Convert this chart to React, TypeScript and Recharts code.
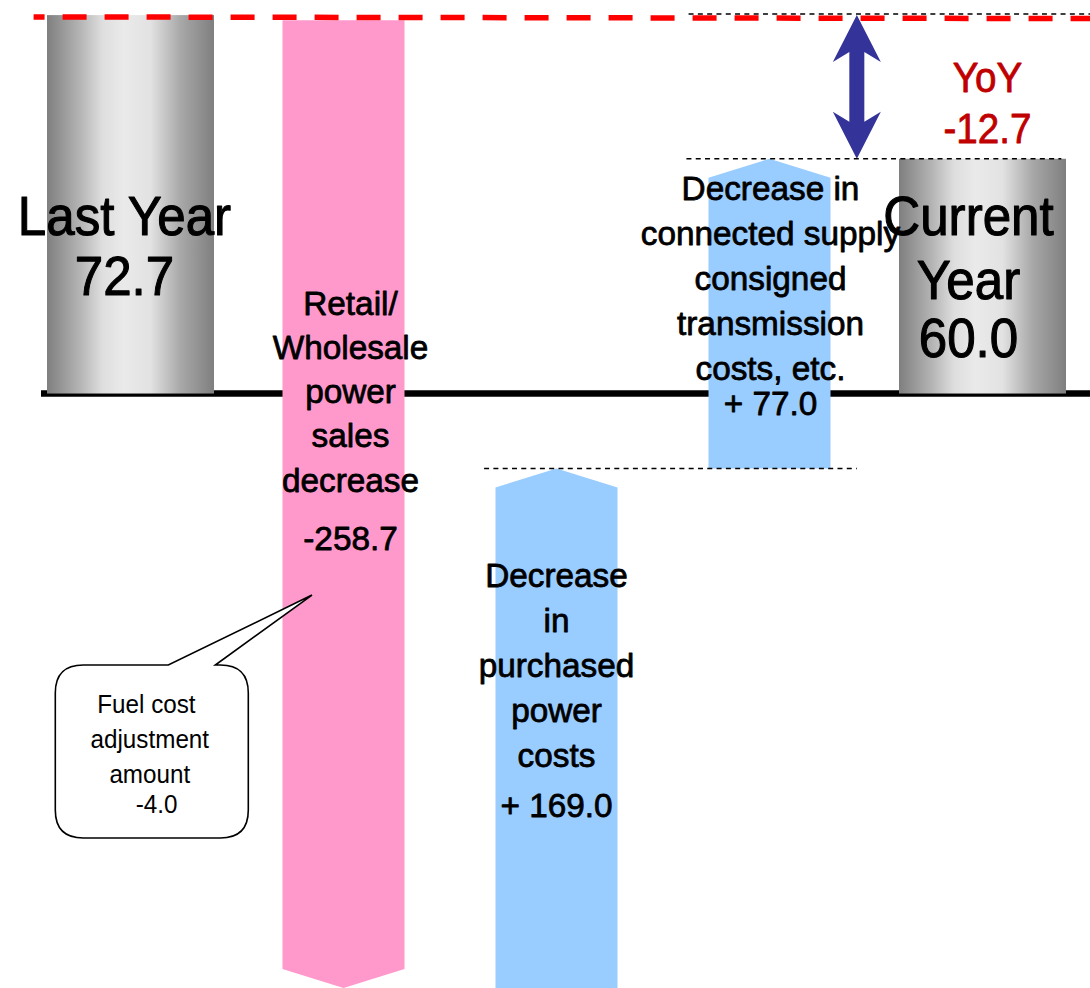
import React from 'react';
import { BarChart, Bar, XAxis, YAxis, ReferenceLine, ReferenceArea, LabelList } from 'recharts';

// ---- data (bar extents are in the chart's schematic units, as drawn) ----
const categories = [
  'Last Year',
  'Retail/Wholesale power sales decrease',
  'Decrease in purchased power costs',
  'Decrease in connected supply consigned transmission costs',
  'Current Year',
];
const barLow = [0, -114.2, -114.2, -14.4, 0];
const barHigh = [72.7, 71.7, -14.4, 45.1, 45.1];
const deltas: (number | null)[] = [null, -258.7, 169.0, 77.0, null];
const yDomain: [number, number] = [-114.2, 75.6];
const labelLines = [
  ['Last Year', '72.7'],
  ['Retail/', 'Wholesale', 'power', 'sales', 'decrease', '-258.7'],
  ['Decrease', 'in', 'purchased', 'power', 'costs', '+ 169.0'],
  ['Decrease in', 'connected supply', 'consigned', 'transmission', 'costs, etc.', '+ 77.0'],
  ['Current', 'Year', '60.0'],
];
const yoyLines = ['YoY', '-12.7'];
const calloutLines = ['Fuel cost\u00A0', 'adjustment', 'amount', '\u00A0\u00A0-4.0'];

const data = categories.map((name, i) => ({ name, range: [barLow[i], barHigh[i]], delta: deltas[i] }));

// ---- styles / layout ----
const FONT = '"Liberation Sans", Arial, Helvetica, sans-serif';
const CYL_W = 167;
const ARROW_W = 122;
const HEAD = 19;
const PINK = '#FF99CC';
const BLUE = '#99CCFF';

const labelLayout = [
  { dx: -6, first: -158.5, offs: [0, 60], size: 55, sx: 0.93, sw: 1.1 },
  { dx: 7, first: -78.5, offs: [0, 44, 88, 132, 177, 235], size: 34, sx: 0.98, sw: 0.8 },
  { dx: 0, first: 193.5, offs: [0, 45, 90, 135, 180, 230], size: 34, sx: 0.98, sw: 0.8 },
  { dx: 1, first: -193.5, offs: [0, 45, 90, 135, 180, 215], size: 34, sx: 0.98, sw: 0.8 },
  { dx: -14, first: -158.5, offs: [0, 64, 122], size: 55, sx: 0.93, sw: 1.1 },
];

function Txt({ x, y, size, sx = 1, fill = '#000', sw = 0, children }: any) {
  return (
    <text
      transform={`translate(${x},${y}) scale(${sx},1)`}
      textAnchor="middle"
      fontSize={size}
      fontFamily={FONT}
      fill={fill}
      stroke={sw ? fill : 'none'}
      strokeWidth={sw}
      strokeLinejoin="round"
    >
      {children}
    </text>
  );
}

function idxOf(props: any): number {
  if (typeof props.index === 'number') return props.index;
  const n = props.payload?.name ?? props.name ?? props.value;
  return categories.indexOf(n);
}

const BarShape = (props: any) => {
  const { x, y, width, height } = props;
  const i = idxOf(props);
  if (i < 0) return <g />;
  const top = Math.min(y, y + height);
  const h = Math.abs(height);
  const bottom = top + h;
  const cx = x + width / 2;
  const band = width;
  const ppu = h / (barHigh[i] - barLow[i]);
  const y0 = top + barHigh[i] * ppu;
  const d = deltas[i];
  if (d == null) {
    const gid = `cyl${i}`;
    return (
      <g>
        <defs>
          <linearGradient id={gid} x1="0" y1="0" x2="1" y2="0">
            <stop offset="0" stopColor="#7f7f7f" />
            <stop offset="0.2" stopColor="#b5b5b5" />
            <stop offset="0.33" stopColor="#dedede" />
            <stop offset="0.46" stopColor="#eaeaea" />
            <stop offset="0.62" stopColor="#e2e2e2" />
            <stop offset="0.8" stopColor="#a8a8a8" />
            <stop offset="1" stopColor="#7f7f7f" />
          </linearGradient>
        </defs>
        <rect x={cx - CYL_W / 2} y={top} width={CYL_W} height={h} fill={`url(#${gid})`} />
      </g>
    );
  }
  const L = cx - ARROW_W / 2;
  const R = cx + ARROW_W / 2;
  const pts =
    d < 0
      ? `${L},${top} ${R},${top} ${R},${bottom - HEAD} ${cx},${bottom} ${L},${bottom - HEAD}`
      : `${L},${bottom} ${L},${top + HEAD} ${cx},${top} ${R},${top + HEAD} ${R},${bottom}`;
  let callout = null;
  if (i === 1) {
    const mid = cx - band / 2;
    const bcx = mid - 0.4 * band;
    const bl = bcx - 96.5;
    const br = bcx + 96.5;
    const bt = y0 + 271.5;
    const bb = y0 + 444.5;
    const r = 28;
    const tipX = mid + 0.352 * band;
    const tipY = y0 + 201.5;
    const p1 = bcx + 16.5;
    const p2 = bcx + 63.5;
    const path = `M ${bl + r} ${bt} L ${p1} ${bt} L ${tipX} ${tipY} L ${p2} ${bt} L ${br - r} ${bt} Q ${br} ${bt} ${br} ${bt + r} L ${br} ${bb - r} Q ${br} ${bb} ${br - r} ${bb} L ${bl + r} ${bb} Q ${bl} ${bb} ${bl} ${bb - r} L ${bl} ${bt + r} Q ${bl} ${bt} ${bl + r} ${bt} Z`;
    const base = [319.5, 354.5, 389.5, 419.5];
    callout = (
      <g>
        <path d={path} fill="#fff" stroke="#000" strokeWidth={1.6} strokeLinejoin="miter" />
        {calloutLines.map((t, k) => (
          <Txt key={k} x={bcx - 2} y={y0 + base[k]} size={25} sx={0.97}>
            {t}
          </Txt>
        ))}
      </g>
    );
  }
  return (
    <g>
      <polygon points={pts} fill={d < 0 ? PINK : BLUE} />
      {callout}
    </g>
  );
};

const renderLabel = (props: any) => {
  const i = idxOf(props);
  if (i < 0) return null;
  const vb = props.viewBox && typeof props.viewBox.x === 'number' ? props.viewBox : props;
  const top = Math.min(vb.y, vb.y + vb.height);
  const h = Math.abs(vb.height);
  const cx = vb.x + vb.width / 2;
  const ppu = h / (barHigh[i] - barLow[i]);
  const y0 = top + barHigh[i] * ppu;
  const lay = labelLayout[i];
  return (
    <g>
      {labelLines[i].map((t, k) => (
        <Txt key={k} x={cx + lay.dx} y={y0 + lay.first + lay.offs[k]} size={lay.size} sx={lay.sx} sw={lay.sw}>
          {t}
        </Txt>
      ))}
    </g>
  );
};

const bandOf = (x1: number, x2: number) => (x2 - x1) / categories.length;
const centerOf = (x1: number, band: number, i: number) => x1 + band * (i + 0.5);

const BaseLine = (p: any) => {
  const band = bandOf(p.x1, p.x2);
  const xs = centerOf(p.x1, band, 0) - CYL_W / 2 - 6;
  return <line x1={xs} x2={p.x2 + 2} y1={p.y1} y2={p.y2} stroke="#000" strokeWidth={6.5} />;
};

const TopLine = (p: any) => {
  const band = bandOf(p.x1, p.x2);
  return (
    <g>
      <line
        x1={p.x1 + 0.045 * band}
        x2={p.x2 + 2}
        y1={p.y1 + 1.8}
        y2={p.y2 + 3.5}
        stroke="#FF0000"
        strokeWidth={5.5}
        strokeDasharray="24 18"
        strokeDashoffset={13}
      />
      <line
        x1={centerOf(p.x1, band, 3) - 0.38 * band}
        x2={p.x2 + 2}
        y1={p.y1 - 1}
        y2={p.y2 - 1}
        stroke="#000"
        strokeWidth={1.5}
        strokeDasharray="5 4.3"
      />
    </g>
  );
};

const CurrentLine = (p: any) => {
  const band = bandOf(p.x1, p.x2);
  return (
    <line
      x1={centerOf(p.x1, band, 3) - 0.39 * band}
      x2={centerOf(p.x1, band, 4) + 0.37 * band}
      y1={p.y1}
      y2={p.y2}
      stroke="#000"
      strokeWidth={1.5}
      strokeDasharray="5 4.3"
    />
  );
};

const StepLine = (p: any) => {
  const band = bandOf(p.x1, p.x2);
  return (
    <line
      x1={centerOf(p.x1, band, 2) - 0.34 * band}
      x2={centerOf(p.x1, band, 3) + 0.41 * band}
      y1={p.y1}
      y2={p.y2}
      stroke="#000"
      strokeWidth={1.5}
      strokeDasharray="5 4.3"
    />
  );
};

const YoYArea = (p: any) => {
  const band = p.width / categories.length;
  const ax = p.x + band * 3.5 + 0.41 * band;
  const t = Math.min(p.y, p.y + p.height);
  const b = t + Math.abs(p.height);
  const hw = 24;
  const sw = 7.5;
  const hl = 47;
  const nl = 37;
  const pts = [
    [ax, t],
    [ax + hw, t + hl],
    [ax + sw, t + nl],
    [ax + sw, b - nl],
    [ax + hw, b - hl],
    [ax, b],
    [ax - hw, b - hl],
    [ax - sw, b - nl],
    [ax - sw, t + nl],
    [ax - hw, t + hl],
  ]
    .map((q) => q.join(','))
    .join(' ');
  const tx = p.x + band * 4.5 + 5;
  return (
    <g>
      <polygon points={pts} fill="#333399" />
      <Txt x={tx} y={t + 77} size={42} sx={0.92} fill="#C00000" sw={0.8}>
        {yoyLines[0]}
      </Txt>
      <Txt x={tx} y={t + 128} size={42} sx={0.92} fill="#C00000" sw={0.8}>
        {yoyLines[1]}
      </Txt>
    </g>
  );
};

export default function App() {
  return (
    <div style={{ position: 'absolute', left: 0, top: 0, width: 1090, height: 988, background: '#fff' }}>
      <BarChart
        width={1090}
        height={988}
        data={data}
        margin={{ top: 0, right: 1, bottom: 0, left: 24 }}
        barCategoryGap={0}
        barGap={0}
      >
        <XAxis dataKey="name" type="category" hide />
        <YAxis type="number" domain={yDomain} hide allowDataOverflow />
        <ReferenceLine y={0} shape={BaseLine} zIndex={-10} />
        <Bar dataKey="range" shape={BarShape} isAnimationActive={false}>
          <LabelList dataKey="name" content={renderLabel} />
        </Bar>
        <ReferenceArea y1={barHigh[4]} y2={barHigh[0]} shape={YoYArea} zIndex={1500} />
        <ReferenceLine y={barHigh[0]} shape={TopLine} zIndex={1500} />
        <ReferenceLine y={barHigh[4]} shape={CurrentLine} zIndex={1500} />
        <ReferenceLine y={barHigh[2]} shape={StepLine} zIndex={1500} />
      </BarChart>
    </div>
  );
}
